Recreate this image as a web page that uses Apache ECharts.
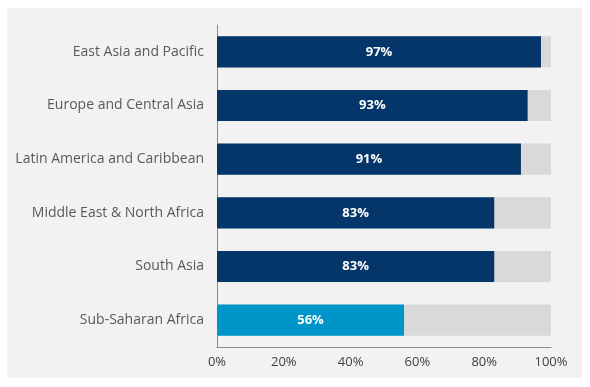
<!DOCTYPE html>
<html><head><meta charset="utf-8">
<script src="https://cdn.jsdelivr.net/npm/echarts@6/dist/echarts.min.js"></script>
<style>html,body{margin:0;padding:0;background:#fff;}#c{width:590px;height:387px;}</style>
</head><body><div id="c"></div>
<script>
const categories = ["East Asia and Pacific","Europe and Central Asia","Latin America and Caribbean","Middle East & North Africa","South Asia","Sub-Saharan Africa"];
const values = [97, 93, 91, 83, 83, 56];
const barColors = ["#05366a","#05366a","#05366a","#05366a","#05366a","#0095c9"];
const xTicks = [0, 20, 40, 60, 80, 100];

const chart = echarts.init(document.getElementById('c'), null, {renderer:'canvas'});
chart.setOption({
  backgroundColor: '#ffffff',
  animation: false,
  graphic: [{type:'rect', shape:{x:7,y:8,width:575,height:370}, style:{fill:'#f2f2f2'}, z:-10, silent:true}],
  grid: {left:217, right:39, top:25, bottom:40, containLabel:false},
  xAxis: {
    type:'value', min:xTicks[0], max:xTicks[xTicks.length-1], interval:20,
    axisLine:{show:true, lineStyle:{color:'#898989', width:1}},
    axisTick:{show:false}, splitLine:{show:false},
    axisLabel:{formatter:'{value}%', color:'#404040', fontSize:13, fontFamily:'Open Sans', margin:9}
  },
  yAxis: {
    type:'category', data:categories, inverse:true,
    axisLine:{show:true, lineStyle:{color:'#898989', width:1}},
    axisTick:{show:false},
    axisLabel:{color:'#595959', fontSize:14, fontFamily:'Open Sans', margin:13}
  },
  series: [{
    type:'bar', barCategoryGap:'42%',
    data: values.map((v,i)=>({value:v, itemStyle:{color:barColors[i]}})),
    showBackground:true, backgroundStyle:{color:'#d9d9d9'},
    label:{show:true, position:'inside', formatter:'{c}%', color:'#ffffff', fontWeight:'bold', fontSize:13, fontFamily:'Open Sans'}
  }]
});
</script></body></html>
